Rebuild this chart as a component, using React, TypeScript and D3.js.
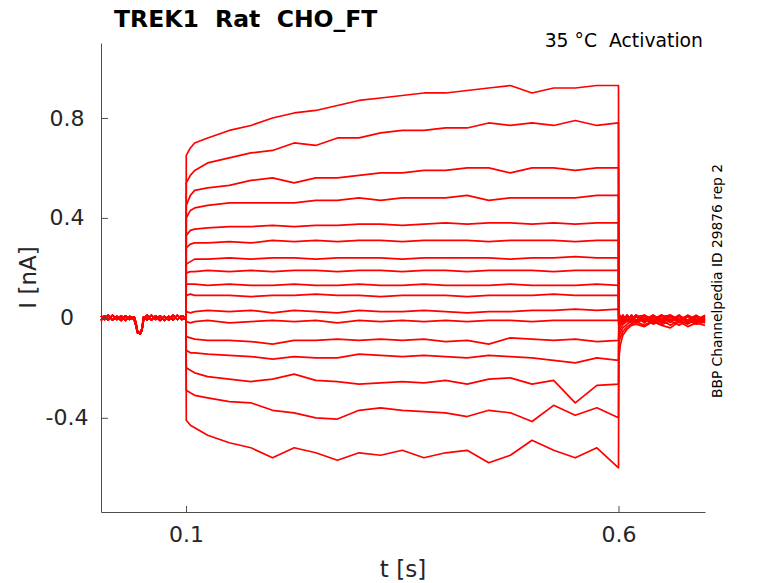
import * as d3 from "d3"
import { useEffect, useRef } from "react"

const TRACE_COLOR = "#ff0000"
const AXIS_COLOR = "#4d4d4d"
const TEXT_COLOR = "#262626"
const FONT = "'DejaVu Sans', sans-serif"
const W = 778
const H = 583
const plot = { left: 101, right: 705, top: 43, bottom: 512 }

// time bases (s)
const preTimes = [
  0.0017, 0.006, 0.01, 0.015, 0.02, 0.025, 0.03, 0.035, 0.04, 0.042, 0.044, 0.047, 0.049, 0.051, 0.055, 0.06, 0.065, 0.07,
  0.075, 0.08, 0.085, 0.09, 0.095, 0.0997,
]
const stepTimes = [
  0.1, 0.1003, 0.105, 0.11, 0.125, 0.15, 0.175, 0.2, 0.225, 0.25, 0.275, 0.3, 0.325, 0.35, 0.375, 0.4, 0.425, 0.45,
  0.475, 0.5, 0.525, 0.55, 0.575, 0.6,
]
const postTimes = [0.6003, 0.602, 0.605, 0.61, 0.615, 0.62, 0.63, 0.64, 0.65, 0.66, 0.67, 0.68, 0.69, 0.7]

// holding current before the step (nA), two sweeps overlaid
const preA = [
  0.008, -0.006, 0.01, -0.008, 0.006, -0.01, 0.008, -0.006, 0.004, -0.02, -0.055, -0.065, -0.05, -0.004, 0.01, -0.008,
  0.008, -0.01, 0.006, -0.008, 0.01, -0.006, 0.008, 0,
]
const preB = [
  -0.01, 0.008, -0.008, 0.01, -0.006, 0.008, -0.01, 0.006, -0.006, -0.03, -0.06, -0.058, -0.045, 0.004, -0.008, 0.01,
  -0.006, 0.008, -0.01, 0.006, -0.008, 0.01, -0.006, -0.002,
]

// current during the voltage step (nA)
const step01 = [0, 0.65, 0.68, 0.7, 0.72, 0.75, 0.77, 0.8, 0.82, 0.83, 0.85, 0.87, 0.88, 0.89, 0.9, 0.9, 0.91, 0.92, 0.93, 0.9, 0.92, 0.92, 0.93, 0.93]
const step02 = [0, 0.54, 0.57, 0.59, 0.62, 0.64, 0.66, 0.67, 0.7, 0.69, 0.72, 0.72, 0.74, 0.75, 0.75, 0.76, 0.76, 0.78, 0.77, 0.78, 0.77, 0.79, 0.77, 0.78]
const step03 = [0, 0.45, 0.49, 0.51, 0.52, 0.53, 0.55, 0.56, 0.54, 0.56, 0.56, 0.57, 0.58, 0.58, 0.59, 0.59, 0.6, 0.6, 0.58, 0.6, 0.6, 0.59, 0.6, 0.6]
const step04 = [0, 0.4, 0.43, 0.44, 0.45, 0.46, 0.46, 0.46, 0.46, 0.47, 0.47, 0.48, 0.47, 0.48, 0.48, 0.48, 0.49, 0.47, 0.48, 0.48, 0.48, 0.48, 0.49, 0.49]
const step05 = [0, 0.33, 0.35, 0.355, 0.36, 0.365, 0.365, 0.37, 0.365, 0.37, 0.37, 0.375, 0.375, 0.37, 0.375, 0.38, 0.375, 0.38, 0.38, 0.375, 0.38, 0.375, 0.38, 0.38]
const step06 = [0, 0.28, 0.295, 0.3, 0.3, 0.305, 0.3, 0.31, 0.305, 0.31, 0.305, 0.31, 0.31, 0.305, 0.31, 0.31, 0.31, 0.305, 0.31, 0.31, 0.31, 0.305, 0.31, 0.31]
const step07 = [0, 0.215, 0.225, 0.235, 0.235, 0.24, 0.235, 0.24, 0.24, 0.235, 0.24, 0.24, 0.24, 0.235, 0.24, 0.24, 0.24, 0.24, 0.235, 0.24, 0.24, 0.245, 0.24, 0.24]
const step08 = [0, 0.18, 0.185, 0.185, 0.19, 0.185, 0.19, 0.185, 0.19, 0.19, 0.185, 0.19, 0.19, 0.185, 0.19, 0.19, 0.185, 0.19, 0.19, 0.19, 0.185, 0.19, 0.19, 0.19]
const step09 = [0, 0.135, 0.135, 0.135, 0.13, 0.135, 0.13, 0.13, 0.135, 0.13, 0.13, 0.135, 0.13, 0.13, 0.135, 0.13, 0.13, 0.13, 0.135, 0.13, 0.13, 0.13, 0.135, 0.13]
const step10 = [0, 0.09, 0.095, 0.09, 0.09, 0.09, 0.085, 0.09, 0.09, 0.095, 0.09, 0.09, 0.085, 0.09, 0.09, 0.09, 0.085, 0.09, 0.09, 0.09, 0.095, 0.09, 0.09, 0.09]
const step11 = [0, 0.025, 0.02, 0.025, 0.03, 0.025, 0.03, 0.02, 0.03, 0.025, 0.02, 0.03, 0.025, 0.025, 0.03, 0.025, 0.02, 0.025, 0.025, 0.03, 0.03, 0.035, 0.03, 0.035]
const step12 = [0, -0.015, -0.02, -0.015, -0.01, -0.02, -0.015, -0.01, -0.015, -0.01, -0.02, -0.01, -0.015, -0.01, -0.015, -0.01, -0.015, -0.01, -0.01, -0.015, -0.01, -0.01, -0.01, -0.01]
const step13 = [0, -0.075, -0.08, -0.085, -0.09, -0.09, -0.095, -0.105, -0.09, -0.09, -0.085, -0.09, -0.085, -0.09, -0.085, -0.095, -0.09, -0.105, -0.08, -0.085, -0.09, -0.085, -0.095, -0.09]
const step14 = [0, -0.13, -0.14, -0.14, -0.145, -0.15, -0.155, -0.165, -0.155, -0.16, -0.16, -0.145, -0.15, -0.155, -0.15, -0.155, -0.16, -0.15, -0.155, -0.16, -0.17, -0.18, -0.16, -0.17]
const step15 = [0, -0.2, -0.21, -0.22, -0.235, -0.245, -0.255, -0.245, -0.225, -0.25, -0.255, -0.265, -0.26, -0.255, -0.26, -0.25, -0.265, -0.245, -0.24, -0.265, -0.25, -0.34, -0.27, -0.265]
const step16 = [0, -0.29, -0.3, -0.31, -0.32, -0.335, -0.34, -0.37, -0.38, -0.4, -0.405, -0.37, -0.36, -0.37, -0.375, -0.38, -0.395, -0.37, -0.38, -0.415, -0.35, -0.39, -0.36, -0.4]
const step17 = [0, -0.41, -0.43, -0.44, -0.47, -0.5, -0.52, -0.56, -0.52, -0.54, -0.57, -0.54, -0.55, -0.53, -0.56, -0.54, -0.53, -0.58, -0.55, -0.49, -0.53, -0.56, -0.52, -0.6]

// tail current after the step (nA)
const tail01 = [-0.05, -0.03, -0.02, -0.01, 0.01, -0.015, 0.008, -0.02, 0.01, -0.015, 0.006, -0.02, 0.008, -0.01]
const tail02 = [-0.04, -0.025, -0.01, 0.008, -0.02, 0.01, -0.015, 0.006, -0.02, 0.01, -0.012, 0.008, -0.02, 0]
const tail03 = [-0.03, -0.02, 0.005, -0.015, 0.012, -0.01, 0.006, -0.02, 0.01, -0.018, 0.008, -0.01, 0.01, -0.015]
const tail04 = [-0.025, -0.015, -0.005, 0.01, -0.015, 0.008, -0.02, 0.012, -0.01, 0.006, -0.02, 0.01, -0.015, 0.005]
const tail05 = [-0.02, -0.01, 0.008, -0.012, 0.01, -0.02, 0.006, -0.01, 0.012, -0.015, 0.008, -0.02, 0.006, -0.01]
const tail06 = [-0.02, 0.005, -0.015, 0.01, -0.01, 0.006, -0.018, 0.01, -0.012, 0.008, -0.015, 0.006, -0.01, 0.01]
const tail07 = [-0.015, 0, -0.012, 0.012, -0.015, 0.005, 0.01, -0.02, 0.006, -0.01, 0.012, -0.015, 0.004, -0.006]
const tail08 = [-0.01, 0.008, -0.01, 0.006, -0.018, 0.012, -0.008, 0.006, -0.02, 0.01, -0.006, 0.008, -0.015, 0.01]
const tail09 = [-0.01, 0.01, -0.015, 0.008, -0.006, 0.01, -0.02, 0.008, -0.006, 0.012, -0.015, 0.006, -0.01, -0.004]
const tail10 = [0, -0.012, 0.01, -0.008, 0.006, -0.015, 0.01, -0.006, 0.012, -0.018, 0.008, -0.01, 0.01, -0.012]
const tail11 = [0.01, -0.008, 0.012, -0.015, 0.008, -0.01, 0.012, -0.02, 0.006, 0.01, -0.015, 0.01, -0.008, 0.006]
const tail12 = [-0.01, 0.006, -0.018, 0.01, -0.012, 0.008, -0.006, 0.01, -0.02, 0.006, -0.012, 0.01, -0.006, 0.008]
const tail13 = [-0.04, -0.025, -0.01, 0.006, -0.015, 0.008, -0.012, 0.006, -0.02, 0.008, -0.01, 0.004, -0.015, -0.008]
const tail14 = [-0.06, -0.045, -0.028, -0.012, -0.02, 0.004, -0.015, 0.006, -0.02, -0.004, -0.015, 0.004, -0.018, -0.01]
const tail15 = [-0.08, -0.06, -0.04, -0.025, -0.015, -0.02, -0.005, -0.025, -0.01, -0.03, -0.01, -0.025, -0.008, -0.02]
const tail16 = [-0.1, -0.08, -0.055, -0.035, -0.025, -0.015, -0.03, -0.01, -0.028, -0.012, -0.03, -0.01, -0.025, -0.015]
const tail17 = [-0.17, -0.11, -0.07, -0.045, -0.03, -0.025, -0.035, -0.015, -0.03, -0.04, -0.015, -0.035, -0.02, -0.03]

const steps = [step01, step02, step03, step04, step05, step06, step07, step08, step09, step10, step11, step12, step13, step14, step15, step16, step17]
const tails = [tail01, tail02, tail03, tail04, tail05, tail06, tail07, tail08, tail09, tail10, tail11, tail12, tail13, tail14, tail15, tail16, tail17]

const xTicks = [0.1, 0.6]
const xTickLabels = ["0.1", "0.6"]
const yTicks = [-0.4, 0, 0.4, 0.8]
const yTickLabels = ["-0.4", "0", "0.4", "0.8"]

export default function App() {
  const svgRef = useRef<SVGSVGElement | null>(null)

  useEffect(() => {
    if (!svgRef.current) return
    const svg = d3.select(svgRef.current)
    svg.selectAll("*").remove()

    const x = d3.scaleLinear().domain([0.0017, 0.7]).range([plot.left, plot.right])
    const y = d3.scaleLinear().domain([-0.777, 1.1]).range([plot.bottom, plot.top])

    const line = d3
      .line<[number, number]>()
      .x((d) => x(d[0]))
      .y((d) => y(d[1]))

    // sweeps: holding, step, tail
    const sweeps = steps.map((s, i) => {
      const pre = i % 2 === 0 ? preA : preB
      const pts: [number, number][] = []
      preTimes.forEach((t, k) => pts.push([t, pre[k]]))
      stepTimes.forEach((t, k) => pts.push([t, s[k]]))
      postTimes.forEach((t, k) => pts.push([t, tails[i][k]]))
      return pts
    })

    svg
      .append("g")
      .selectAll("path")
      .data(sweeps)
      .enter()
      .append("path")
      .attr("d", (d) => line(d))
      .attr("fill", "none")
      .attr("stroke", TRACE_COLOR)
      .attr("stroke-width", 1.7)
      .attr("stroke-linejoin", "round")

    // Y axis
    const yAxis = svg
      .append("g")
      .attr("transform", `translate(${plot.left},0)`)
      .call(
        d3
          .axisLeft(y)
          .tickValues(yTicks)
          .tickSizeInner(-7)
          .tickSizeOuter(0)
          .tickFormat((_, i) => yTickLabels[i]),
      )
    yAxis.select(".domain").attr("stroke", AXIS_COLOR)
    yAxis.selectAll(".tick line").attr("stroke", AXIS_COLOR)
    yAxis
      .selectAll(".tick text")
      .attr("x", -34)
      .attr("text-anchor", "middle")
      .attr("fill", TEXT_COLOR)
      .style("font-family", FONT)
      .style("font-size", "22px")

    // X axis
    const xAxis = svg
      .append("g")
      .attr("transform", `translate(0,${plot.bottom})`)
      .call(
        d3
          .axisBottom(x)
          .tickValues(xTicks)
          .tickSizeInner(-6)
          .tickSizeOuter(0)
          .tickFormat((_, i) => xTickLabels[i]),
      )
    xAxis.select(".domain").attr("stroke", AXIS_COLOR)
    xAxis.selectAll(".tick line").attr("stroke", AXIS_COLOR)
    xAxis
      .selectAll(".tick text")
      .attr("y", 30)
      .attr("dy", null)
      .attr("fill", TEXT_COLOR)
      .style("font-family", FONT)
      .style("font-size", "22px")

    // Axis labels
    svg
      .append("text")
      .attr("x", (plot.left + plot.right) / 2)
      .attr("y", 577)
      .attr("text-anchor", "middle")
      .attr("fill", TEXT_COLOR)
      .style("font-family", FONT)
      .style("font-size", "23px")
      .text("t [s]")

    svg
      .append("text")
      .attr("transform", `translate(36,${(plot.top + plot.bottom) / 2}) rotate(-90)`)
      .attr("text-anchor", "middle")
      .attr("fill", TEXT_COLOR)
      .style("font-family", FONT)
      .style("font-size", "23px")
      .text("I [nA]")

    // Title and annotations
    svg
      .append("text")
      .attr("x", 114)
      .attr("y", 27)
      .attr("fill", "#000")
      .style("font-family", FONT)
      .style("font-size", "23.5px")
      .style("font-weight", "bold")
      .style("white-space", "pre")
      .text("TREK1  Rat  CHO_FT")

    svg
      .append("text")
      .attr("x", 703)
      .attr("y", 47)
      .attr("text-anchor", "end")
      .attr("fill", "#000")
      .style("font-family", FONT)
      .style("font-size", "18.8px")
      .style("white-space", "pre")
      .text("35 °C  Activation")

    svg
      .append("text")
      .attr("transform", "translate(722,281) rotate(-90)")
      .attr("text-anchor", "middle")
      .attr("fill", "#000")
      .style("font-family", FONT)
      .style("font-size", "13.8px")
      .text("BBP Channelpedia ID 29876 rep 2")
  }, [])

  return (
    <svg
      ref={svgRef}
      width={W}
      height={H}
      style={{ position: "absolute", left: 0, top: 0, background: "#fff" }}
      xmlns="http://www.w3.org/2000/svg"
    />
  )
}
